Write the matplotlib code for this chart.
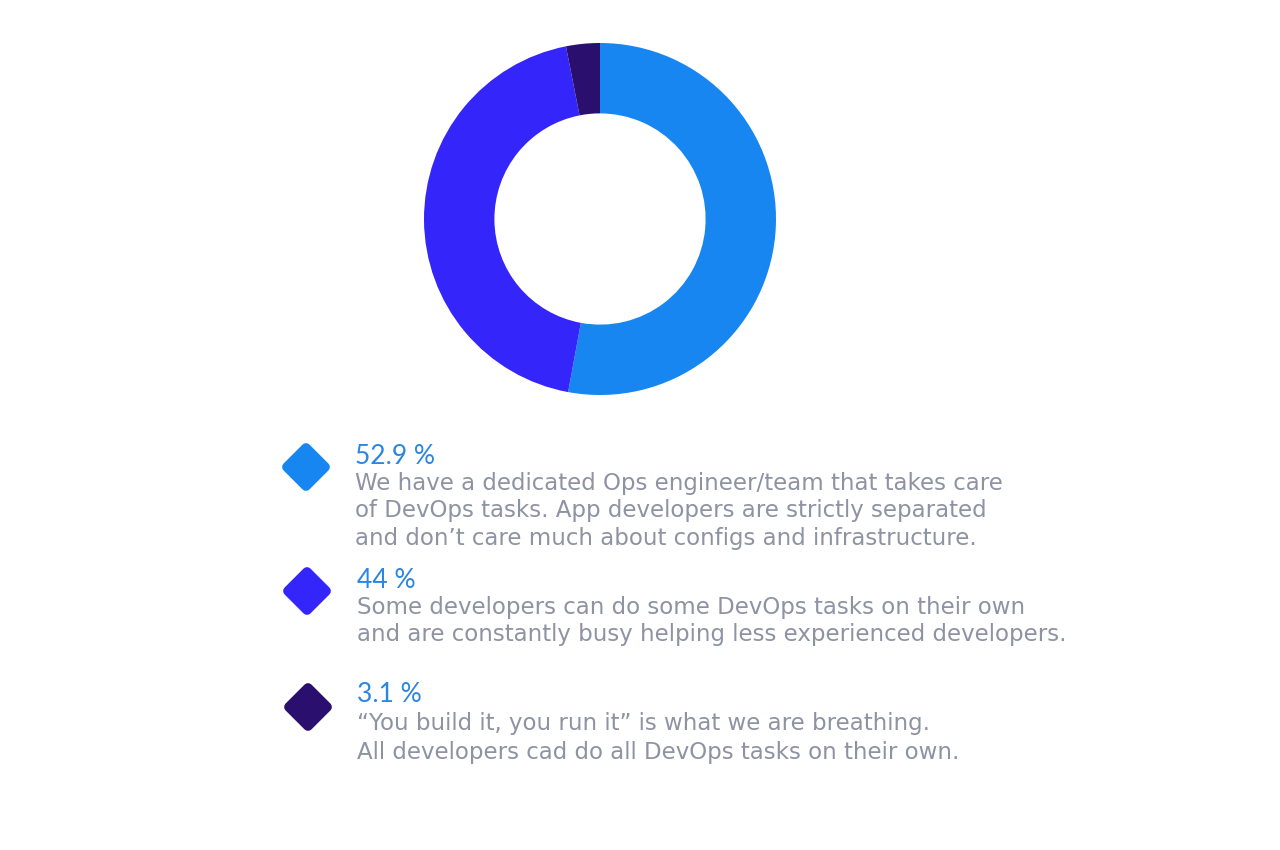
import matplotlib.pyplot as plt
from matplotlib.markers import MarkerStyle

shares = [52.9, 44.0, 3.1]
pct_labels = ["52.9 %", "44 %", "3.1 %"]
descriptions = [
    "We have a dedicated Ops engineer/team that takes care\n"
    "of DevOps tasks. App developers are strictly separated\n"
    "and don\u2019t care much about configs and infrastructure.",
    "Some developers can do some DevOps tasks on their own\n"
    "and are constantly busy helping less experienced developers.",
    "\u201cYou build it, you run it\u201d is what we are breathing.\n"
    "All developers cad do all DevOps tasks on their own.",
]
colors = ["#1786F0", "#3426FB", "#2B0F6E"]

W, H = 1280, 850
fig = plt.figure(figsize=(W / 100, H / 100), dpi=100)
fig.patch.set_facecolor("white")

# donut
cx, cy, r = 600, 219, 176
ax = fig.add_axes([(cx - r) / W, (H - cy - r) / H, 2 * r / W, 2 * r / H])
ax.pie(shares, colors=colors, startangle=90, counterclock=False,
       radius=1, wedgeprops=dict(width=0.4, linewidth=0))
ax.set_xlim(-1, 1)
ax.set_ylim(-1, 1)
ax.set_aspect("equal")
ax.axis("off")

# legend
lax = fig.add_axes([0, 0, 1, 1])
lax.set_xlim(0, W)
lax.set_ylim(H, 0)
lax.axis("off")

marker_x = [306, 307, 308]
marker_y = [467, 591, 707]
pct_x = [355, 357, 357]
pct_y = [456, 580, 695]
desc_y = [472, 596, 712]
spacing = [1.24, 1.24, 1.32]
diamond = MarkerStyle("D", joinstyle="round")
for i in range(3):
    lax.plot(marker_x[i], marker_y[i], marker=diamond, markersize=19,
             color=colors[i], markeredgecolor=colors[i], markeredgewidth=7)
    lax.text(pct_x[i], pct_y[i], pct_labels[i], color="#2A86E2", fontsize=19,
             family="Lato", va="center", ha="left")
    lax.text(pct_x[i], desc_y[i], descriptions[i], color="#8E93A3", fontsize=16.5,
             family="DejaVu Sans", va="top", ha="left", linespacing=spacing[i])

fig.savefig("out.png", dpi=100, facecolor="white")
